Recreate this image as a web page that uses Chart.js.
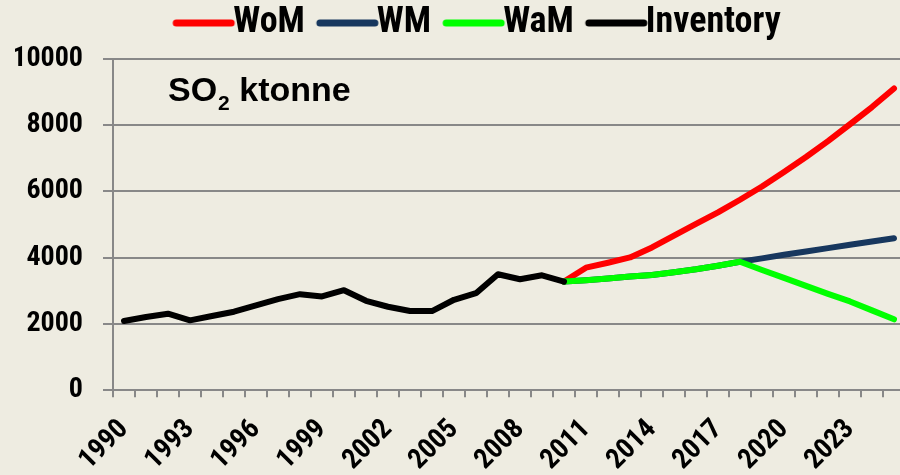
<!DOCTYPE html>
<html>
<head>
<meta charset="utf-8">
<script src="https://cdn.jsdelivr.net/npm/chart.js@4.4.1/dist/chart.umd.min.js"></script>
<style>
  html, body { margin: 0; padding: 0; background: #EEECE1; overflow: hidden; }
  #wrap { width: 906px; height: 475px; position: relative; }
</style>
</head>
<body>
<div id="wrap"><canvas id="chart"></canvas></div>
<script>
// Years on the category axis
const years = [];
for (let y = 1990; y <= 2025; y++) years.push(String(y));

// SO2 emissions, ktonne
const inventory = [2090, 2210, 2310, 2110, 2240, 2370, 2560, 2750, 2900, 2830, 3020,
    2700, 2520, 2390, 2390, 2730, 2930, 3500, 3350, 3470, 3280,
    null, null, null, null, null, null, null, null, null, null, null, null, null, null, null];
const wom = [null, null, null, null, null, null, null, null, null, null, null, null, null, null, null, null, null, null, null, null,
    3280, 3700, 3850, 4010, 4310, 4670, 5020, 5370, 5750, 6150, 6590, 7040, 7520, 8030, 8550, 9110];
const wm = [null, null, null, null, null, null, null, null, null, null, null, null, null, null, null, null, null, null, null, null,
    3280, 3320, 3370, 3430, 3480, 3560, 3650, 3760, 3880, 3980, 4090, 4190, 4290, 4390, 4490, 4590];
const wam = [null, null, null, null, null, null, null, null, null, null, null, null, null, null, null, null, null, null, null, null,
    3280, 3320, 3370, 3430, 3480, 3560, 3650, 3760, 3880, 3630, 3390, 3150, 2910, 2680, 2410, 2140];

const narrow = "'Roboto Condensed', 'Open Sans', sans-serif";
const gridGrey = '#888888';

// legend swatch: a thick round-capped line sitting right next to the text
function legendSwatch(color) {
    const c = document.createElement('canvas');
    c.width = 88;
    c.height = 10;
    const g = c.getContext('2d');
    g.strokeStyle = color;
    g.lineWidth = 7;
    g.lineCap = 'round';
    g.beginPath();
    g.moveTo(27, 5);
    g.lineTo(82, 5);
    g.stroke();
    return c;
}

// "SO2 ktonne" label inside the plot, plus small legend placement tweaks
const titlePlugin = {
    id: 'so2Title',
    beforeInit(chart) {
        // a bit more room between legend and plot
        const fit = chart.legend.fit;
        chart.legend.fit = function() {
            fit.bind(chart.legend)();
            this.height += 8;
        };
    },
    afterLayout(chart) {
        // original legend sits a little right of the canvas centre
        chart.legend.left += 16;
        chart.legend.right += 16;
    },
    afterDraw(chart) {
        const ctx = chart.ctx;
        const area = chart.chartArea;
        const x = area.left + 55;
        const y = area.top + 42;
        ctx.save();
        ctx.fillStyle = '#000';
        ctx.textBaseline = 'alphabetic';
        ctx.font = "bold 34px 'Liberation Sans', Arial, sans-serif";
        ctx.fillText('SO', x, y);
        let w = ctx.measureText('SO').width;
        ctx.font = "bold 21px 'Liberation Sans', Arial, sans-serif";
        ctx.fillText('2', x + w + 1, y + 9);
        w += ctx.measureText('2').width + 1;
        ctx.font = "bold 34px 'Liberation Sans', Arial, sans-serif";
        ctx.fillText(' ktonne', x + w, y);
        ctx.restore();
    }
};

function lineSet(label, data, color, order) {
    return {
        label: label,
        data: data,
        borderColor: color,
        backgroundColor: color,
        borderWidth: 6,
        borderCapStyle: 'round',
        borderJoinStyle: 'round',
        pointRadius: 0,
        pointHoverRadius: 0,
        tension: 0,
        order: order
    };
}

new Chart(document.getElementById('chart'), {
    type: 'line',
    data: {
        labels: years,
        datasets: [
            lineSet('WoM', wom, '#FF0000', 3),
            lineSet('WM', wm, '#17375E', 2),
            lineSet('WaM', wam, '#00FF00', 1),
            lineSet('Inventory', inventory, '#000000', 0)
        ]
    },
    options: {
        responsive: true,
        maintainAspectRatio: false,
        animation: false,
        layout: { padding: { left: 15, top: -5, right: 1, bottom: -18 } },
        plugins: {
            legend: {
                position: 'top',
                labels: {
                    usePointStyle: true,
                    pointStyleWidth: 44,
                    padding: 10,
                    color: '#000',
                    font: { family: narrow, size: 36, weight: 'bold' },
                    sort: (a, b) => a.datasetIndex - b.datasetIndex,
                    generateLabels: function(chart) {
                        const items = Chart.defaults.plugins.legend.labels.generateLabels(chart);
                        items.forEach(item => {
                            item.pointStyle = legendSwatch(chart.data.datasets[item.datasetIndex].borderColor);
                        });
                        return items;
                    }
                }
            },
            tooltip: { enabled: false }
        },
        scales: {
            x: {
                type: 'category',
                offset: true,
                grid: {
                    offset: true,
                    drawOnChartArea: false,
                    color: gridGrey,
                    lineWidth: 2,
                    tickLength: 7
                },
                border: { color: gridGrey, width: 2 },
                ticks: {
                    autoSkip: false,
                    minRotation: 45,
                    maxRotation: 45,
                    padding: 16,
                    labelOffset: 0,
                    color: '#000',
                    font: { family: narrow, size: 28, weight: 'bold' },
                    callback: function(value, index) {
                        return index % 3 === 0 ? years[index] : '';
                    }
                },
                // rotated labels may hang outside the plot, like the original
                afterFit(scale) {
                    scale.paddingLeft = 0;
                    scale.paddingRight = 0;
                }
            },
            y: {
                min: 0,
                max: 10000,
                ticks: {
                    stepSize: 2000,
                    padding: 20,
                    color: '#000',
                    font: { family: narrow, size: 28, weight: 'bold' },
                    callback: value => String(value)
                },
                grid: {
                    color: gridGrey,
                    lineWidth: 2,
                    tickLength: 10
                },
                border: { color: gridGrey, width: 2 },
                afterFit(scale) {
                    scale.width = 98;
                }
            }
        }
    },
    plugins: [titlePlugin]
});
</script>
</body>
</html>
